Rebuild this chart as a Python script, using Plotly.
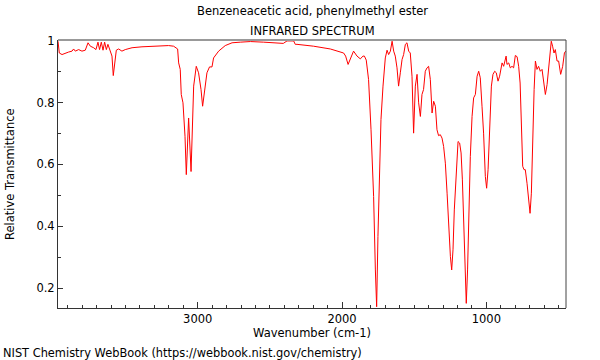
import plotly.graph_objects as go

# Wavenumber (cm-1) and relative transmittance
wavenumber = [
    3968, 3959, 3940, 3918, 3895, 3871, 3860, 3848, 3825, 3802, 3779, 3760, 3744,
    3721, 3705, 3691, 3680, 3668, 3656, 3645, 3633, 3622, 3606, 3594, 3585, 3576,
    3564, 3548, 3525, 3502, 3455, 3386, 3294, 3202, 3167, 3150, 3139, 3132, 3121,
    3114, 3102, 3088, 3079, 3063, 3046, 3028, 3010, 2994, 2977, 2966, 2952, 2936,
    2918, 2901, 2890, 2855, 2809, 2762, 2705, 2635, 2543, 2407, 2381, 2358, 2335,
    2324, 2312, 2197, 2081, 1989, 1975, 1958, 1942, 1920, 1896, 1873, 1855, 1845,
    1832, 1816, 1799, 1781, 1769, 1760, 1751, 1739, 1730, 1716, 1707, 1700, 1688,
    1677, 1665, 1653, 1642, 1631, 1619, 1608, 1596, 1584, 1573, 1561, 1550, 1538,
    1527, 1515, 1504, 1492, 1480, 1469, 1457, 1446, 1435, 1423, 1411, 1400, 1388,
    1376, 1365, 1353, 1342, 1331, 1319, 1307, 1296, 1284, 1272, 1261, 1249, 1240,
    1231, 1222, 1208, 1196, 1185, 1175, 1166, 1157, 1148, 1139, 1130, 1120, 1111,
    1099, 1088, 1076, 1064, 1053, 1042, 1030, 1019, 1007, 998, 988, 977, 965, 954,
    942, 931, 919, 908, 891, 880, 863, 857, 845, 834, 822, 811, 799, 787, 776, 766,
    757, 748, 739, 730, 718, 707, 697, 688, 679, 669, 660, 649, 638, 626, 614, 603,
    591, 579, 568, 557, 550, 541, 531, 522, 510, 499, 485, 471, 459, 450,
]
transmittance = [
    0.998, 0.960, 0.955, 0.960, 0.963, 0.966, 0.973, 0.966, 0.971, 0.966, 0.969, 0.993, 0.982,
    0.977, 0.971, 0.995, 0.971, 0.995, 0.969, 0.995, 0.971, 0.988, 0.966, 0.950, 0.887, 0.928,
    0.969, 0.973, 0.966, 0.971, 0.977, 0.980, 0.982, 0.984, 0.982, 0.977, 0.973, 0.928, 0.907,
    0.826, 0.799, 0.691, 0.567, 0.750, 0.577, 0.853, 0.917, 0.896, 0.842, 0.788, 0.842, 0.896,
    0.915, 0.915, 0.944, 0.966, 0.984, 0.993, 0.995, 0.997, 0.995, 0.991, 0.999, 1.000, 0.999,
    0.988, 0.988, 0.982, 0.973, 0.960, 0.950, 0.923, 0.940, 0.966, 0.950, 0.941, 0.950, 0.950,
    0.937, 0.874, 0.712, 0.496, 0.259, 0.140, 0.367, 0.604, 0.745, 0.853, 0.907, 0.944, 0.969,
    0.955, 0.966, 0.998, 0.966, 0.950, 0.912, 0.853, 0.896, 0.939, 0.955, 0.988, 0.993, 0.966,
    0.960, 0.885, 0.701, 0.853, 0.891, 0.799, 0.755, 0.826, 0.842, 0.901, 0.912, 0.917, 0.874,
    0.766, 0.804, 0.788, 0.712, 0.693, 0.696, 0.685, 0.658, 0.604, 0.507, 0.388, 0.302, 0.259,
    0.324, 0.453, 0.583, 0.674, 0.669, 0.637, 0.550, 0.399, 0.237, 0.151, 0.259, 0.453, 0.626,
    0.755, 0.815, 0.826, 0.885, 0.901, 0.880, 0.788, 0.701, 0.561, 0.523, 0.583, 0.734, 0.853, 0.891,
    0.901, 0.896, 0.869, 0.885, 0.928, 0.917, 0.950, 0.923, 0.928, 0.912, 0.917, 0.912, 0.952, 0.948, 0.917, 0.863,
    0.745, 0.594, 0.583, 0.583, 0.539, 0.486, 0.442, 0.507, 0.691, 0.842, 0.934, 0.907, 0.917, 0.901, 0.907, 0.858,
    0.826, 0.858, 0.917, 0.955, 0.998, 0.982, 0.960, 0.971, 0.934, 0.934, 0.891, 0.917, 0.960, 0.966,
]

title_line1 = "Benzeneacetic acid, phenylmethyl ester"
title_line2 = "INFRARED SPECTRUM"
x_title = "Wavenumber (cm-1)"
y_title = "Relative Transmittance"
footer = "NIST Chemistry WebBook (https://webbook.nist.gov/chemistry)"
x_tickvals = [3000, 2000, 1000]
y_tickvals = [0.2, 0.4, 0.6, 0.8, 1.0]
y_ticktext = ["0.2", "0.4", "0.6", "0.8", "1"]

FONT = "DejaVu Sans"
FS = 11.5

fig = go.Figure()
fig.add_trace(go.Scatter(
    x=wavenumber, y=transmittance, mode="lines",
    line=dict(color="#ff0000", width=1), showlegend=False, hoverinfo="skip",
))

fig.update_layout(
    width=600, height=360,
    margin=dict(l=58, r=34, t=40, b=52),
    paper_bgcolor="white", plot_bgcolor="white",
    font=dict(family=FONT, size=FS, color="black"),
    xaxis=dict(
        range=[3968, 448], showgrid=False, zeroline=False,
        showline=True, linecolor="#333333", linewidth=1,
        tickmode="array", tickvals=x_tickvals,
        ticks="inside", ticklen=6, tickcolor="#333333",
        minor=dict(dtick=100, ticks="inside", ticklen=3, tickcolor="#333333", showgrid=False),
        tickfont=dict(family=FONT, size=FS),
    ),
    yaxis=dict(
        range=[0.136, 1.002], showgrid=False, zeroline=False,
        showline=True, linecolor="#333333", linewidth=1,
        tickmode="array", tickvals=y_tickvals, ticktext=y_ticktext,
        ticks="inside", ticklen=5, tickcolor="#333333",
        minor=dict(dtick=0.1, ticks="inside", ticklen=3, tickcolor="#333333", showgrid=False),
        tickfont=dict(family=FONT, size=FS),
    ),
    shapes=[
        dict(type="line", xref="paper", yref="paper", x0=0, x1=1, y0=1, y1=1,
             line=dict(color="#999999", width=2)),
        dict(type="line", xref="paper", yref="paper", x0=1, x1=1, y0=0, y1=1,
             line=dict(color="#444444", width=1)),
    ],
    annotations=[
        dict(text=title_line1, xref="paper", yref="paper", x=0.5, y=1,
             xanchor="center", yanchor="bottom", yshift=20, showarrow=False,
             font=dict(family=FONT, size=FS)),
        dict(text=title_line2, xref="paper", yref="paper", x=0.5, y=1,
             xanchor="center", yanchor="bottom", yshift=0, showarrow=False,
             font=dict(family=FONT, size=FS)),
        dict(text=x_title, xref="paper", yref="paper", x=0.5, y=0,
             xanchor="center", yanchor="middle", yshift=-25, showarrow=False,
             font=dict(family=FONT, size=FS)),
        dict(text=y_title, xref="paper", yref="paper", x=0, y=0.5,
             xanchor="center", yanchor="middle", xshift=-48, textangle=-90,
             showarrow=False, font=dict(family=FONT, size=FS)),
        dict(text=footer, xref="paper", yref="paper", x=0, y=0,
             xanchor="left", yanchor="middle", xshift=-57, yshift=-44.5,
             showarrow=False, font=dict(family=FONT, size=11.4)),
    ],
)

fig.write_html(
    "out.html",
    config={"displayModeBar": False},
    post_script="document.body.style.margin='0';document.body.style.overflow='hidden';",
)
